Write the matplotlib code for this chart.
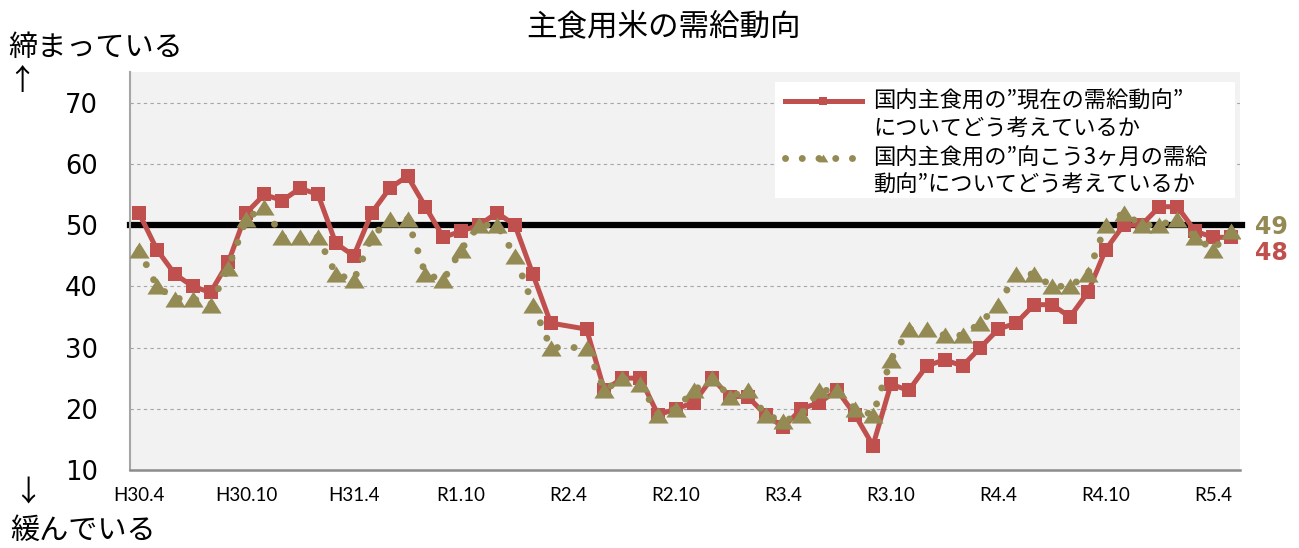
import matplotlib
matplotlib.use('Agg')
import matplotlib.pyplot as plt
from matplotlib.patches import Rectangle

plt.rcParams['font.family'] = ['Noto Sans CJK JP', 'DejaVu Sans']

# 調査月: H30.4 ～ R5.5 の毎月 (R2.4 は調査なし -> None)
tick_labels = ['H30.4', 'H30.10', 'H31.4', 'R1.10', 'R2.4', 'R2.10',
               'R3.4', 'R3.10', 'R4.4', 'R4.10', 'R5.4']
tick_step = 6

# 現在の需給動向 DI
current = [52, 46, 42, 40, 39, 44, 52, 55, 54, 56, 55, 47, 45, 52, 56, 58,
           53, 48, 49, 50, 52, 50, 42, 34, None, 33, 23, 25, 25, 19, 20, 21,
           25, 22, 22, 19, 17, 20, 21, 23, 19, 14, 24, 23, 27, 28, 27, 30,
           33, 34, 37, 37, 35, 39, 46, 50, 50, 53, 53, 49, 48, 48]

# 向こう3ヶ月の需給動向 DI
outlook = [46, 40, 38, 38, 37, 43, 51, 53, 48, 48, 48, 42, 41, 48, 51, 51,
           42, 41, 46, 50, 50, 45, 37, 30, None, 30, 23, 25, 24, 19, 20, 23,
           25, 22, 23, 19, 18, 19, 23, 23, 20, 19, 28, 33, 33, 32, 32, 34,
           37, 42, 42, 40, 40, 42, 50, 52, 50, 50, 51, 48, 46, 49]

ref_level = 50

title = '主食用米の需給動向'
label_current = ['国内主食用の”現在の需給動向”', 'についてどう考えているか']
label_outlook = ['国内主食用の”向こう3ヶ月の需給', '動向”についてどう考えているか']

RED = '#C0504D'
OLIVE = '#948A54'


def valid(series):
    xs = [i for i, v in enumerate(series) if v is not None]
    ys = [v for v in series if v is not None]
    return xs, ys


fig = plt.figure(figsize=(12.99, 5.48), dpi=100)
ax = fig.add_axes([130 / 1299, 78 / 548, 1110 / 1299, 398 / 548])
ax.set_facecolor('#F2F2F2')

ax.set_xlim(-0.5, len(current) - 0.5)
ax.set_ylim(10, 75)
ax.set_yticks(range(10, 71, 10))
ax.set_xticks(range(0, len(current), tick_step))
ax.set_xticklabels(tick_labels, family='Lato', fontsize=13.5)
ax.tick_params(axis='x', length=0, pad=12)
ax.tick_params(axis='y', length=0, pad=23, labelsize=18.5)
for lab in ax.get_yticklabels():
    lab.set_family('DejaVu Sans')

ax.yaxis.grid(True, color='#A6A6A6', linestyle=(0, (3, 3)), linewidth=0.8)
ax.set_axisbelow(True)
for s in ['top', 'right']:
    ax.spines[s].set_visible(False)
ax.spines['left'].set_color('#A6A6A6')
ax.spines['left'].set_linewidth(1.5)
ax.spines['bottom'].set_color('#8C8C8C')
ax.spines['bottom'].set_linewidth(1.8)

ax.axhline(ref_level, color='black', linewidth=4.5, zorder=2, clip_on=False,
           xmax=1.002)

x1, y1 = valid(current)
ax.plot(x1, y1, color=RED, linewidth=3.6, marker='s', markersize=9.5,
        markeredgewidth=0, zorder=3)

tri = [(-1, -0.8), (1, -0.8), (0, 0.8)]
x2, y2 = valid(outlook)
ax.plot(x2, y2, color=OLIVE, linewidth=5, linestyle=(0, (0.01, 2.4)),
        dash_capstyle='round', zorder=4)
ax.plot(x2, y2, color=OLIVE, linestyle='none', marker=tri, markersize=14.5,
        markeredgewidth=0, zorder=4)

# legend box
ax.add_patch(Rectangle((0.581, 0.683), 0.4145, 0.292, transform=ax.transAxes,
                       facecolor='white', edgecolor='none', zorder=6))
lx0, lx1 = (785 - 130) / 1110, (862 - 130) / 1110
tx = (873 - 130) / 1110
rows = [(470 - 101) / 398, (470 - 128) / 398, (470 - 158) / 398, (470 - 185) / 398]
ax.plot([lx0, lx1], [rows[0]] * 2, color=RED, linewidth=3.6,
        transform=ax.transAxes, zorder=7, clip_on=False)
ax.plot([(lx0 + lx1) / 2], [rows[0]], color=RED, marker='s', markersize=6,
        markeredgewidth=0, transform=ax.transAxes, zorder=7, clip_on=False)
ax.plot([lx0, lx1], [rows[2]] * 2, color=OLIVE, linewidth=5,
        linestyle=(0, (0.01, 2.4)), dash_capstyle='round',
        transform=ax.transAxes, zorder=7, clip_on=False)
ax.plot([(lx0 + lx1) / 2], [rows[2]], color=OLIVE, marker=tri, markersize=7,
        markeredgewidth=0, transform=ax.transAxes, zorder=7, clip_on=False)
for y, txt in zip(rows, label_current + label_outlook):
    ax.text(tx, y, txt, transform=ax.transAxes, fontsize=16, va='center',
            ha='left', zorder=8)

# 右端の最新値
ax.text(1.0135, (outlook[-1] - 10) / 65 + 0.01, str(outlook[-1]),
        transform=ax.transAxes, color=OLIVE, fontsize=17, fontweight='bold',
        family='DejaVu Sans', va='center', ha='left')
ax.text(1.0135, (current[-1] - 10) / 65 - 0.04, str(current[-1]),
        transform=ax.transAxes, color=RED, fontsize=17, fontweight='bold',
        family='DejaVu Sans', va='center', ha='left')

fig.text(663 / 1299, 1 - 27 / 548, title, fontsize=22, ha='center', va='center')
fig.text(8 / 1299, 1 - 48 / 548, '締まっている', fontsize=21, ha='left', va='center')
fig.text(22 / 1299, 1 - 82 / 548, '↑', fontsize=21, ha='center', va='center')
fig.text(28 / 1299, 1 - 493 / 548, '↓', fontsize=21, ha='center', va='center')
fig.text(10 / 1299, 1 - 531 / 548, '緩んでいる', fontsize=21, ha='left', va='center')

fig.savefig('out.png', dpi=100)
